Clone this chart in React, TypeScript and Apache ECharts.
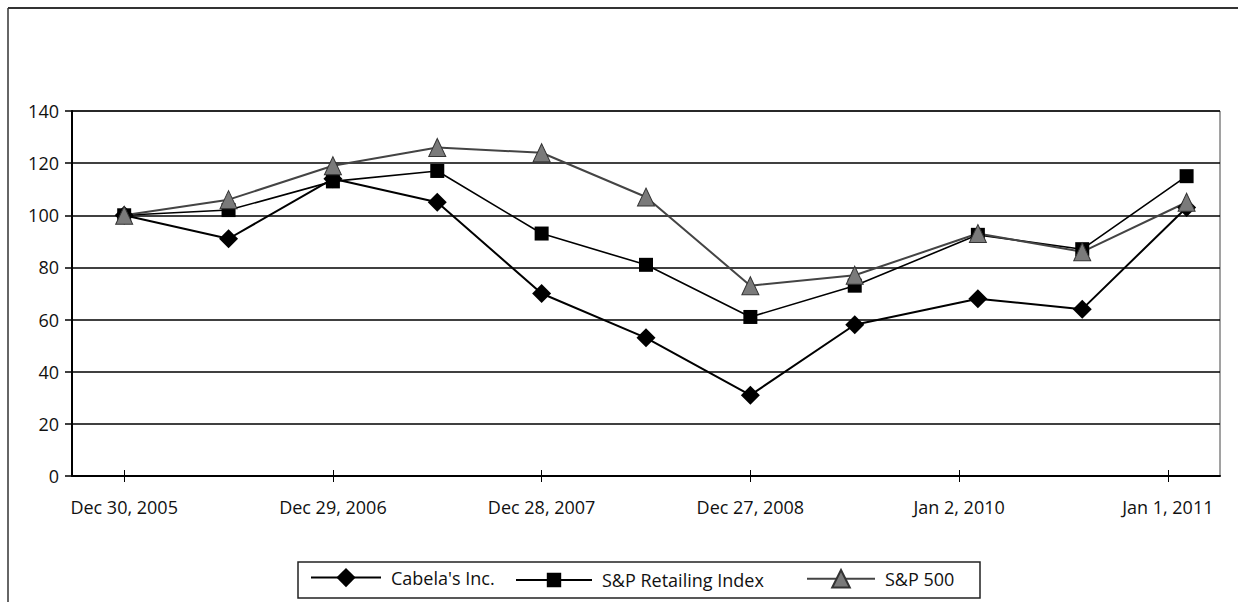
import React, { useEffect, useRef } from "react";
import * as echarts from "echarts";

// x positions in years since Dec 30, 2005 (dates of the measurement points)
const xTickYears = [0, 1, 2, 3, 4, 5];
const xTickLabels = ["Dec 30, 2005", "Dec 29, 2006", "Dec 28, 2007", "Dec 27, 2008", "Jan 2, 2010", "Jan 1, 2011"];
const pointYears = [0, 0.5, 1, 1.5, 2, 2.5, 3, 3.5, 4.09, 4.59, 5.09];

const seriesNames = ["Cabela's Inc.", "S&P Retailing Index", "S&P 500"];
const cabelas = [100, 91, 114, 105, 70, 53, 31, 58, 68, 64, 103];
const retailing = [100, 102, 113, 117, 93, 81, 61, 73, 92.5, 87, 115];
const sp500 = [100, 106, 119, 126, 124, 107, 73, 77, 93, 86, 105];

const FONT = "'Open Sans', Lato, sans-serif";
const FS = 18;

export default function App() {
  const ref = useRef<HTMLDivElement>(null);
  useEffect(() => {
    const chart = echarts.init(ref.current!, null, { renderer: "svg" });
    const pair = (vals: number[]) => pointYears.map((x, i) => [x, vals[i]]);
    const legendText = { fontFamily: FONT, fontSize: FS, color: "#111", padding: [0, 0, 0, 5] };
    chart.setOption({
      animation: false,
      backgroundColor: "#fff",
      textStyle: { fontFamily: FONT },
      grid: {
        left: 72, right: 18, top: 111, bottom: 126,
        show: true, borderColor: "#444", borderWidth: 1, backgroundColor: "transparent",
      },
      legend: [
        {
          data: [seriesNames[0]], left: 310, top: 568, padding: 0,
          itemWidth: 70, itemHeight: 24, textStyle: legendText,
        },
        {
          data: [seriesNames[1]], left: 515, top: 571, padding: 0,
          itemWidth: 76, itemHeight: 18, textStyle: legendText,
        },
        {
          data: [seriesNames[2]], left: 806, top: 569, padding: 0,
          itemWidth: 68, itemHeight: 22, textStyle: legendText,
        },
      ],
      xAxis: [
        {
          type: "value", min: -0.25, max: 5.25,
          splitLine: { show: false },
          axisLine: { onZero: false, lineStyle: { color: "#000", width: 2 } },
          axisTick: { show: true, inside: false, length: 6, customValues: xTickYears, lineStyle: { color: "#000", width: 1 } },
          axisLabel: {
            customValues: xTickYears,
            formatter: (v: number) => xTickLabels[xTickYears.indexOf(Math.round(v))] ?? "",
            margin: 22, fontSize: FS, color: "#111", fontFamily: FONT,
          },
        },
        {
          type: "value", min: -0.25, max: 5.25, position: "bottom",
          splitLine: { show: false },
          axisLine: { show: false, onZero: false },
          axisTick: { show: true, inside: true, length: 6, customValues: xTickYears, lineStyle: { color: "#000", width: 1 } },
          axisLabel: { show: false },
        },
      ],
      yAxis: {
        type: "value", min: 0, max: 140, interval: 20,
        axisLine: { show: true, onZero: false, lineStyle: { color: "#000", width: 2 } },
        axisTick: { show: true, inside: false, length: 7, lineStyle: { color: "#000", width: 1.5 } },
        axisLabel: { margin: 13, fontSize: FS, color: "#111", fontFamily: FONT },
        splitLine: { show: true, lineStyle: { color: "#000", width: 1.5 } },
      },
      series: [
        {
          name: seriesNames[0], type: "line", data: pair(cabelas),
          symbol: "diamond", symbolSize: 19,
          lineStyle: { color: "#000", width: 2 },
          itemStyle: { color: "#000", borderColor: "#000", borderWidth: 0 },
        },
        {
          name: seriesNames[1], type: "line", data: pair(retailing),
          symbol: "rect", symbolSize: 14,
          lineStyle: { color: "#000", width: 1.6 },
          itemStyle: { color: "#000", borderColor: "#000", borderWidth: 0 },
        },
        {
          name: seriesNames[2], type: "line", data: pair(sp500),
          symbol: "triangle", symbolSize: [17, 18],
          lineStyle: { color: "#444", width: 2 },
          itemStyle: { color: "#7a7a7a", borderColor: "#333", borderWidth: 1 },
        },
      ],
      graphic: [
        { type: "line", shape: { x1: 8, y1: 8, x2: 1238, y2: 8 }, style: { stroke: "#333", lineWidth: 2 } },
        { type: "line", shape: { x1: 8, y1: 8, x2: 8, y2: 602 }, style: { stroke: "#333", lineWidth: 1.5 } },
        { type: "rect", shape: { x: 298, y: 562, width: 682, height: 36 }, style: { fill: "none", stroke: "#222", lineWidth: 1.5 } },
      ],
    });
    return () => chart.dispose();
  }, []);
  return (
    <div
      ref={ref}
      style={{ position: "fixed", left: 0, top: 0, width: 1238, height: 602, background: "#fff" }}
    />
  );
}
